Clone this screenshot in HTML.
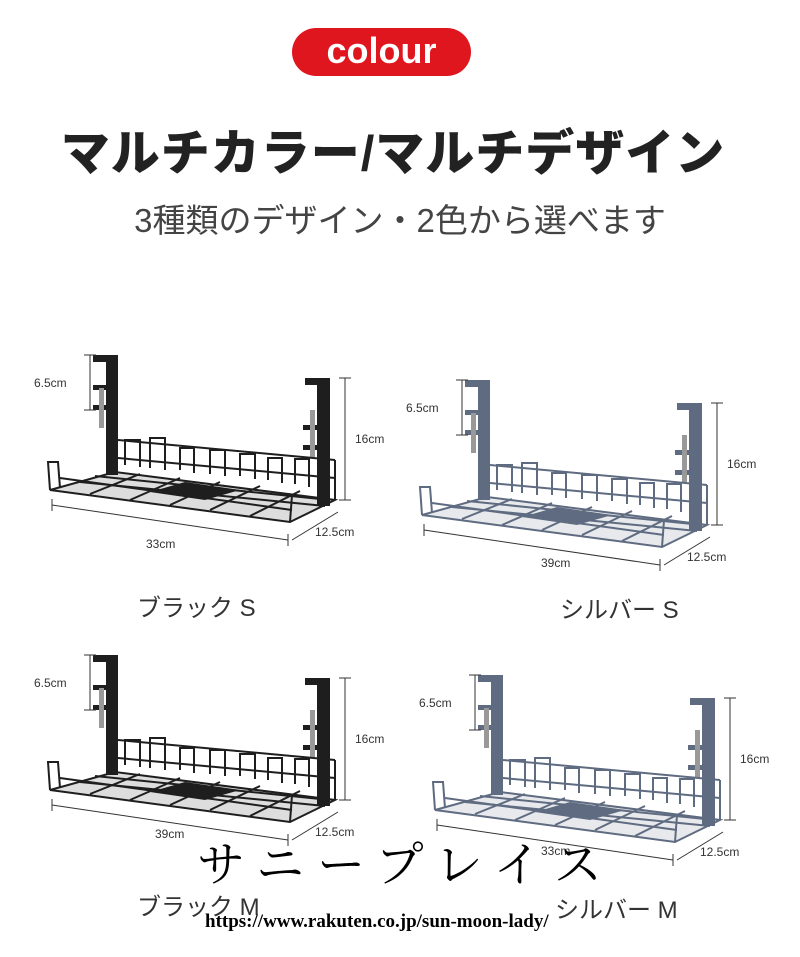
<!DOCTYPE html>
<html><head><meta charset="utf-8"><style>
html,body{margin:0;padding:0;background:#fff;}
body{width:800px;height:957px;position:relative;overflow:hidden;font-family:"Liberation Sans","Noto Sans CJK JP",sans-serif;}
.pill{position:absolute;left:292px;top:28px;width:179px;height:48px;border-radius:24px;background:#e0161e;color:#fff;font-size:36px;font-weight:bold;text-align:center;line-height:46px;}
.t{position:absolute;left:0;width:800px;text-align:center;}
.lab{position:absolute;font-size:24px;color:#333;}
</style></head><body>
<div class="pill">colour</div>
<div class="t" style="top:114px;font-size:49px;font-weight:900;color:#222;letter-spacing:1px;left:-7px;">マルチカラー/マルチデザイン</div>
<div class="t" style="top:194px;font-size:33px;color:#444;">3種類のデザイン・2色から選べます</div>

<svg width="800" height="957" style="position:absolute;left:0;top:0" xmlns="http://www.w3.org/2000/svg">
<defs>
<g id="basket" fill="none" stroke-width="2">
  <rect x="93" y="355" width="25" height="7" fill="currentColor" stroke="none"/>
  <rect x="106" y="355" width="12" height="120" fill="currentColor" stroke="none"/>
  <rect x="93" y="385" width="14" height="5" fill="currentColor" stroke="none"/>
  <rect x="93" y="405" width="14" height="5" fill="currentColor" stroke="none"/>
  <rect x="99" y="388" width="5" height="40" fill="#999" stroke="none"/>
  <rect x="305" y="378" width="25" height="7" fill="currentColor" stroke="none"/>
  <rect x="317" y="378" width="13" height="128" fill="currentColor" stroke="none"/>
  <rect x="303" y="425" width="16" height="5" fill="currentColor" stroke="none"/>
  <rect x="303" y="445" width="16" height="5" fill="currentColor" stroke="none"/>
  <rect x="310" y="410" width="5" height="48" fill="#999" stroke="none"/>
  <polygon points="50,490 290,522 335,500 115,472" fill="currentColor" fill-opacity="0.15" stroke="currentColor"/>
  <polygon points="150,492 205,500 240,490 185,482" fill="currentColor" stroke="none"/>
  <polyline points="50,490 48,462 58,462 60,488" stroke="currentColor"/>
  <line x1="60" y1="478" x2="292" y2="510" stroke="currentColor"/>
  <line x1="118" y1="440" x2="335" y2="460" stroke="currentColor"/>
  <line x1="118" y1="458" x2="335" y2="478" stroke="currentColor"/>
  <line x1="290" y1="522" x2="292" y2="495" stroke="currentColor"/>
  <line x1="335" y1="500" x2="335" y2="460" stroke="currentColor"/>
  <line x1="80" y1="482" x2="325" y2="506" stroke="currentColor"/>
  <line x1="95" y1="476" x2="330" y2="500" stroke="currentColor"/>
  <line x1="90" y1="494" x2="140" y2="474" stroke="currentColor"/>
  <line x1="130" y1="500" x2="180" y2="478" stroke="currentColor"/>
  <line x1="170" y1="505" x2="220" y2="482" stroke="currentColor"/>
  <line x1="210" y1="510" x2="260" y2="486" stroke="currentColor"/>
  <line x1="250" y1="516" x2="300" y2="491" stroke="currentColor"/>
  <path d="M125,465 v-25 h15 v27 M150,468 v-30 h15 v32 M180,470 v-22 h14 v25 M210,474 v-24 h15 v26 M240,476 v-22 h15 v25 M268,480 v-22 h14 v25 M295,484 v-25 h14 v28" stroke="currentColor"/>
</g>
<g id="dims" fill="none" stroke="#333" stroke-width="1" font-family="Liberation Sans, sans-serif" font-size="12">
  <line x1="90" y1="355" x2="90" y2="410"/><line x1="84" y1="355" x2="96" y2="355"/><line x1="84" y1="410" x2="96" y2="410"/>
  <text x="34" y="387" fill="#333" stroke="none">6.5cm</text>
  <line x1="345" y1="378" x2="345" y2="500"/><line x1="339" y1="378" x2="351" y2="378"/><line x1="339" y1="500" x2="351" y2="500"/>
  <text x="355" y="443" fill="#333" stroke="none">16cm</text>
  <line x1="52" y1="505" x2="288" y2="540"/><line x1="52" y1="499" x2="52" y2="511"/><line x1="288" y1="534" x2="288" y2="546"/>
  <line x1="292" y1="540" x2="338" y2="512"/>
  <text x="315" y="536" fill="#333" stroke="none">12.5cm</text>
</g>
</defs>
<g style="color:#1e1e1e"><use href="#basket"/></g>
<use href="#dims"/>
<text x="146" y="548" font-family="Liberation Sans, sans-serif" font-size="12" fill="#333">33cm</text>

<g transform="translate(372,25)" style="color:#5f6b80"><use href="#basket"/></g>
<g transform="translate(372,25)"><use href="#dims"/></g>
<text x="541" y="567" font-family="Liberation Sans, sans-serif" font-size="12" fill="#333">39cm</text>

<g transform="translate(0,300)" style="color:#1e1e1e"><use href="#basket"/></g>
<g transform="translate(0,300)"><use href="#dims"/></g>
<text x="155" y="838" font-family="Liberation Sans, sans-serif" font-size="12" fill="#333">39cm</text>

<g transform="translate(385,320)" style="color:#5f6b80"><use href="#basket"/></g>
<g transform="translate(385,320)"><use href="#dims"/></g>
<text x="541" y="855" font-family="Liberation Sans, sans-serif" font-size="12" fill="#333">33cm</text>
</svg>

<div class="lab" style="left:137px;top:588px;">ブラック S</div>
<div class="lab" style="left:560px;top:590px;">シルバー S</div>
<div class="lab" style="left:137px;top:887px;">ブラック M</div>
<div class="lab" style="left:555px;top:890px;">シルバー M</div>

<div style="position:absolute;left:197px;top:826px;font-family:'Noto Serif CJK SC','Liberation Serif',serif;font-size:48px;color:#000;letter-spacing:13px;">サニープレイス</div>
<div style="position:absolute;left:205px;top:911px;font-family:'Liberation Serif',serif;font-size:19px;font-weight:bold;color:#000;">https://www.rakuten.co.jp/sun-moon-lady/</div>
</body></html>
